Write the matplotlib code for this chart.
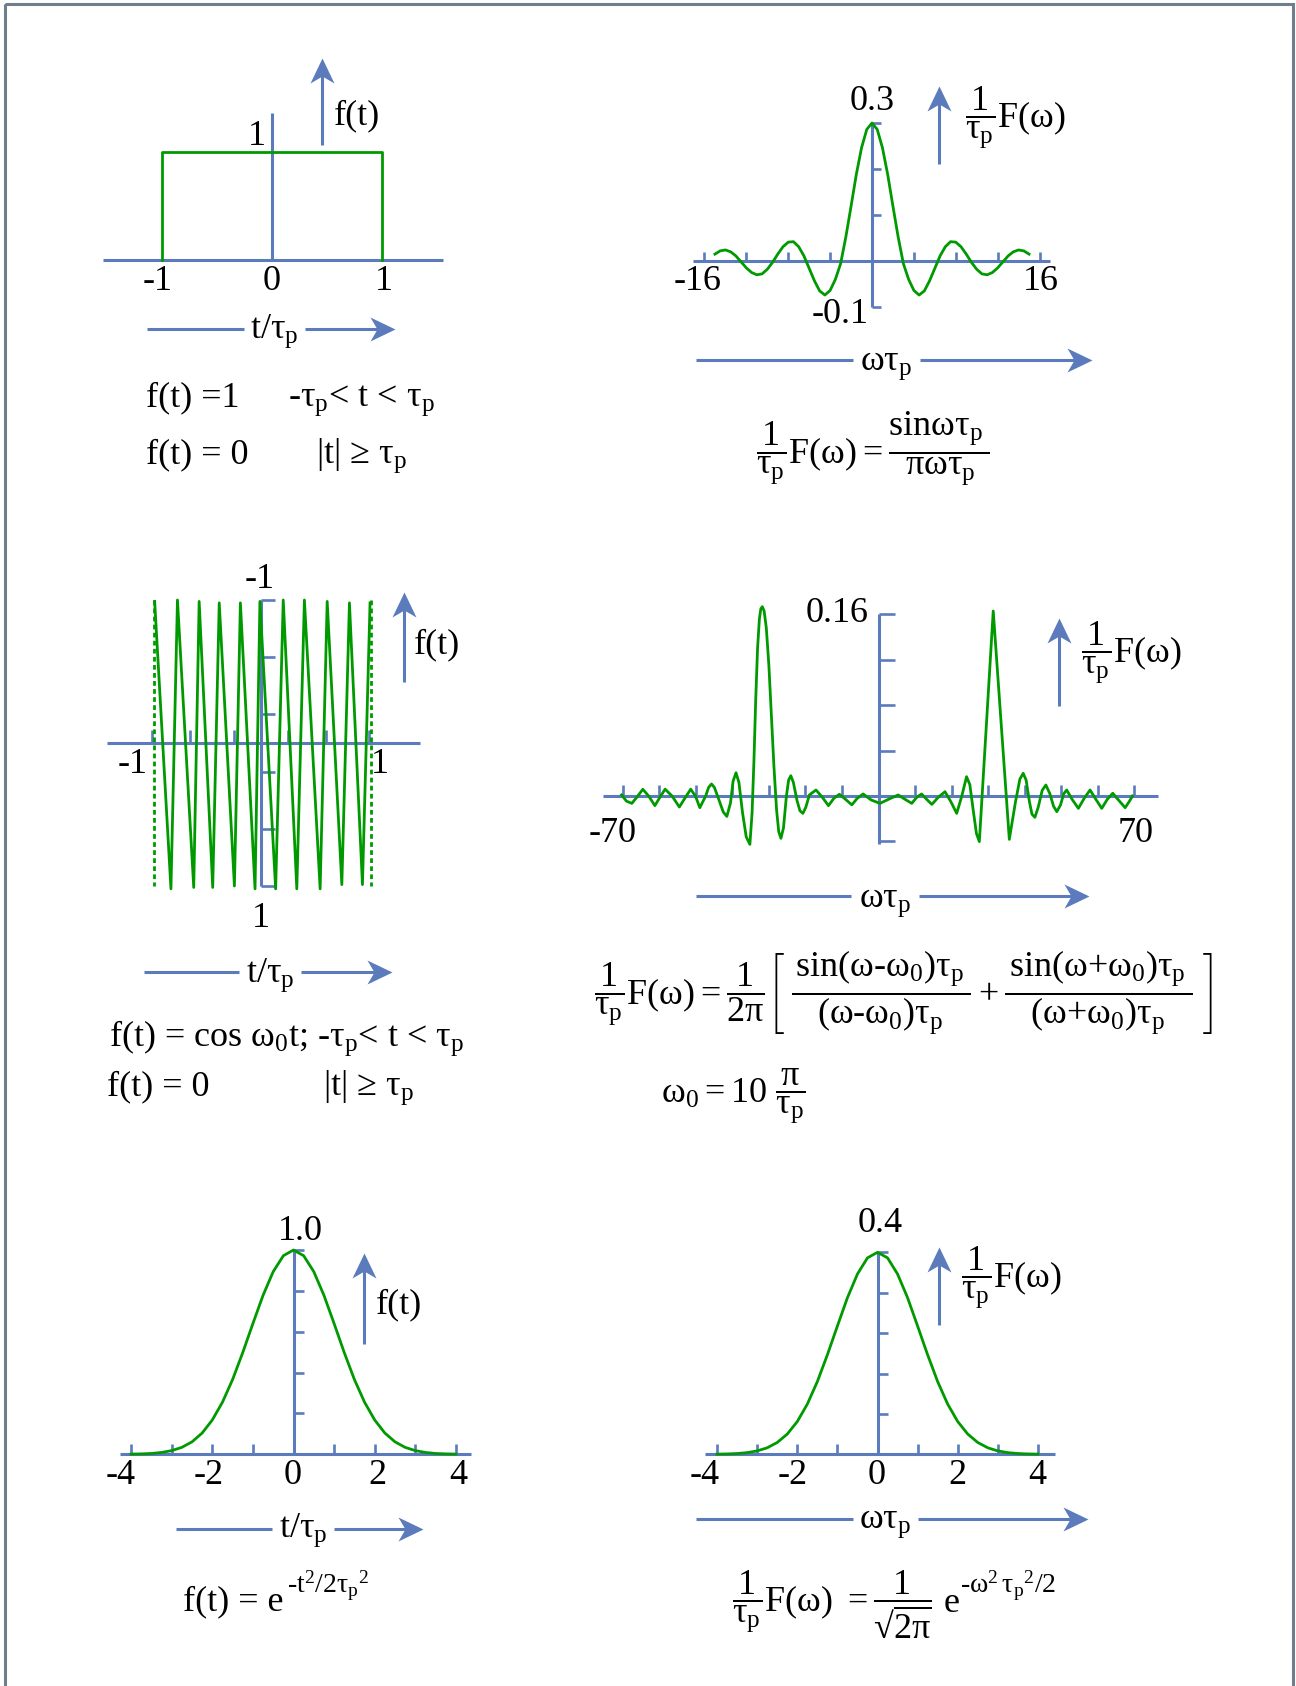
import matplotlib
matplotlib.use("Agg")
import matplotlib.pyplot as plt
from matplotlib.path import Path
from matplotlib.patches import Rectangle

# ---------------------------------------------------------------- canvas
W, H = 1296, 1686
DPI = 100

plt.rcParams["font.family"] = ["Liberation Serif", "DejaVu Serif"]
plt.rcParams["mathtext.fontset"] = "custom"
plt.rcParams["mathtext.rm"] = "Liberation Serif"
plt.rcParams["mathtext.it"] = "Liberation Serif"
plt.rcParams["mathtext.bf"] = "Liberation Serif:bold"
plt.rcParams["mathtext.default"] = "rm"

BLUE = "#5b7bbd"
GREEN = "#009a00"
FRAME = "#6f7e8a"
FS = 26
FS_SUP = 20
AX_LW = 2.2
CURVE_LW = 2.0

# ---------------------------------------------------------------- data
# rectangular pulse
rect_t = [-1, -1, 1, 1]
rect_f = [0, 1, 1, 0]

# its spectrum
sinc_w = [-15.0, -14.5, -14.0, -13.5, -13.0, -12.5, -12.0, -11.5, -11.0, -10.5,
          -10.0, -9.5, -9.0, -8.5, -8.0, -7.5, -7.0, -6.5, -6.0, -5.5,
          -5.0, -4.5, -4.0, -3.5, -3.0, -2.5, -2.0, -1.5, -1.0, -0.5,
          0.0, 0.5, 1.0, 1.5, 2.0, 2.5, 3.0, 3.5, 4.0, 4.5,
          5.0, 5.5, 6.0, 6.5, 7.0, 7.5, 8.0, 8.5, 9.0, 9.5,
          10.0, 10.5, 11.0, 11.5, 12.0, 12.5, 13.0, 13.5, 14.0, 14.5, 15.0]
sinc_F = [0.015, 0.022, 0.024, 0.020, 0.011, -0.002, -0.015, -0.025, -0.030, -0.028,
          -0.018, -0.003, 0.015, 0.031, 0.041, 0.042, 0.031, 0.011, -0.016, -0.043,
          -0.065, -0.074, -0.064, -0.040, -0.006, 0.052, 0.119, 0.188, 0.246, 0.286,
          0.300, 0.286, 0.246, 0.188, 0.119, 0.052, -0.006, -0.040, -0.064, -0.074,
          -0.065, -0.043, -0.016, 0.011, 0.031, 0.042, 0.041, 0.031, 0.015, -0.003,
          -0.018, -0.028, -0.030, -0.025, -0.015, -0.002, 0.011, 0.020, 0.024, 0.022, 0.015]

# cosine burst (vertices of the sampled trace)
cos_t = [-0.98, -0.83, -0.77, -0.62, -0.57, -0.445, -0.385, -0.245, -0.19, -0.055,
         -0.01, 0.135, 0.205, 0.33, 0.40, 0.545, 0.61, 0.745, 0.815, 0.935, 1.005]
cos_f = [-0.99, 1.02, -1.00, 1.01, -0.99, 1.01, -0.98, 1.00, -0.98, 1.02,
         -0.99, 1.02, -1.00, 1.02, -1.00, 1.02, -0.99, 0.99, -0.98, 0.99, -0.98]
cos_edges = [-0.99, 1.01]

# its spectrum
two_w = [-70.3, -69.0, -67.5, -66.0, -64.5, -62.9, -61.2, -59.8, -58.4, -56.5,
         -54.5, -53.0, -51.4, -50.1, -48.9, -47.3, -46.5, -45.7, -44.9, -43.6,
         -42.5, -41.5, -40.5, -39.8, -39.0, -38.2, -37.2, -36.2, -35.2, -34.6,
         -34.1, -33.6, -33.1, -32.6, -32.2, -31.8, -31.3, -30.7, -30.0, -29.3,
         -28.6, -27.9, -27.3, -26.7, -26.0, -25.2, -24.6, -24.0, -23.3, -22.3,
         -21.5, -20.7, -19.9, -18.9, -17.1, -15.4, -13.7, -12.2, -10.7, -9.0,
         -7.3, -5.8, -4.2, -2.0, 0.4, 3.0, 5.4, 7.3, 9.1, 10.5,
         11.8, 13.2, 14.6, 16.4, 18.2, 19.8, 21.4, 22.8, 24.1, 25.0,
         25.9, 26.8, 27.6, 31.4, 35.8, 37.5, 38.7, 39.6, 40.4, 41.3,
         42.0, 42.8, 43.7, 44.8, 45.8, 46.9, 47.9, 48.8, 49.8, 50.7,
         51.5, 53.0, 54.7, 56.3, 57.9, 59.5, 61.1, 62.6, 64.1, 65.8,
         67.5, 68.6, 69.5]
two_F = [0.0010, -0.0045, -0.0065, -0.0005, 0.0059, 0.0000, -0.0085, -0.0010, 0.0060, 0.0000,
         -0.0097, -0.0020, 0.0060, 0.0000, -0.0103, 0.0000, 0.0075, 0.0106, 0.0075, -0.0040,
         -0.0140, -0.0180, -0.0060, 0.0130, 0.0205, 0.0120, -0.0150, -0.0360, -0.0426, -0.0150,
         0.0300, 0.0850, 0.1300, 0.1560, 0.1650, 0.1668, 0.1630, 0.1480, 0.1150, 0.0700,
         0.0250, -0.0120, -0.0315, -0.0373, -0.0280, 0.0000, 0.0140, 0.0179, 0.0120, -0.0040,
         -0.0130, -0.0153, -0.0100, 0.0010, 0.0053, -0.0010, -0.0085, -0.0020, 0.0015, -0.0030,
         -0.0078, -0.0020, 0.0018, -0.0035, -0.0065, -0.0025, 0.0009, -0.0030, -0.0065, -0.0010,
         0.0018, -0.0030, -0.0074, -0.0010, 0.0038, -0.0050, -0.0153, 0.0000, 0.0170, 0.0100,
         -0.0120, -0.0330, -0.0402, 0.1630, -0.0382, -0.0050, 0.0150, 0.0200, 0.0140, -0.0050,
         -0.0160, -0.0188, -0.0100, 0.0050, 0.0097, 0.0020, -0.0090, -0.0138, -0.0080, 0.0020,
         0.0053, -0.0030, -0.0109, -0.0020, 0.0053, -0.0030, -0.0109, -0.0030, 0.0024, -0.0040,
         -0.0103, -0.0050, 0.0000]

# gaussian pulse and its spectrum
gauss_t = [-4.0, -3.75, -3.5, -3.25, -3.0, -2.75, -2.5, -2.25, -2.0, -1.75, -1.5,
           -1.25, -1.0, -0.75, -0.5, -0.25, 0.0, 0.25, 0.5, 0.75, 1.0, 1.25,
           1.5, 1.75, 2.0, 2.25, 2.5, 2.75, 3.0, 3.25, 3.5, 3.75, 4.0]
gauss_f = [0.001, 0.002, 0.004, 0.009, 0.018, 0.034, 0.061, 0.104, 0.168, 0.255, 0.366,
           0.498, 0.640, 0.778, 0.894, 0.972, 1.000, 0.972, 0.894, 0.778, 0.640, 0.498,
           0.366, 0.255, 0.168, 0.104, 0.061, 0.034, 0.018, 0.009, 0.004, 0.002, 0.001]
gauss_w = gauss_t
gauss_F = [0.0003, 0.0007, 0.0015, 0.0033, 0.0067, 0.0129, 0.0234, 0.0401, 0.0649, 0.0994, 0.144,
           0.197, 0.254, 0.310, 0.357, 0.389, 0.400, 0.389, 0.357, 0.310, 0.254, 0.197,
           0.144, 0.0994, 0.0649, 0.0401, 0.0234, 0.0129, 0.0067, 0.0033, 0.0015, 0.0007, 0.0003]

# tick positions
sinc_xticks = [-16, -12, -8, -4, 0, 4, 8, 12, 16]
sinc_yticks = [-0.1, 0.1, 0.2, 0.3]
cos_xticks = [-1, -0.65, -0.25, 0.25, 0.6, 1]
cos_yticks = [-1, -0.6, -0.2, 0.2, 0.6, 1]
two_xticks = [-70, -60, -50, -40, -30, -20, -10, 0, 10, 20, 30, 40, 50, 60, 70]
two_yticks = [-0.04, 0.04, 0.08, 0.12, 0.16]
g_xticks = [-4, -3, -2, -1, 0, 1, 2, 3, 4]
gf_yticks = [0.2, 0.4, 0.6, 0.8, 1.0]
gF_yticks = [0.08, 0.16, 0.24, 0.32, 0.40]

# ---------------------------------------------------------------- figure
fig = plt.figure(figsize=(W / DPI, H / DPI), dpi=DPI, facecolor="white")
ov = fig.add_axes([0, 0, 1, 1], zorder=5)
ov.set_xlim(0, W)
ov.set_ylim(H, 0)
ov.axis("off")

ov.add_patch(Rectangle((5, 4), 1288, H + 40, fill=False, edgecolor=FRAME,
                       lw=2.2, clip_on=False))

HEAD_R = Path([(0, 0), (-1, 0.48), (-0.72, 0), (-1, -0.48), (0, 0)],
              [Path.MOVETO, Path.LINETO, Path.LINETO, Path.LINETO, Path.CLOSEPOLY])
HEAD_U = Path([(0, 0), (0.48, -1), (0, -0.72), (-0.48, -1), (0, 0)],
              [Path.MOVETO, Path.LINETO, Path.LINETO, Path.LINETO, Path.CLOSEPOLY])


def label(x, y, s, ha="center", size=FS):
    ov.text(x, y, s, ha=ha, va="baseline", fontsize=size, color="black")


def up_arrow(x, y0, y1):
    ov.plot([x, x], [y0, y1 + 14], color=BLUE, lw=AX_LW, solid_capstyle="butt")
    ov.plot([x], [y1], marker=HEAD_U, ms=36, color=BLUE, mew=0, ls="none")


def right_arrow(y, x0, g0, g1, x1, text, base):
    ov.plot([x0, g0], [y, y], color=BLUE, lw=AX_LW, solid_capstyle="butt")
    ov.plot([g1, x1 - 14], [y, y], color=BLUE, lw=AX_LW, solid_capstyle="butt")
    ov.plot([x1], [y], marker=HEAD_R, ms=36, color=BLUE, mew=0, ls="none")
    label((g0 + g1) / 2, base, text)


def panel(ox, oy, sx, sy, box):
    l, t, r, b = box
    ax = fig.add_axes([l / W, 1 - b / H, (r - l) / W, (b - t) / H], zorder=2)
    ax.set_xlim((l - ox) / sx, (r - ox) / sx)
    ax.set_ylim((oy - b) / sy, (oy - t) / sy)
    ax.axis("off")
    return ax


def axes_lines(ax, sx, sy, xspan, yspan, xticks=(), yticks=(), xt=9, yt=9):
    ax.plot(xspan, [0, 0], color=BLUE, lw=AX_LW, solid_capstyle="butt", zorder=1)
    ax.plot([0, 0], yspan, color=BLUE, lw=AX_LW, solid_capstyle="butt", zorder=1)
    if len(xticks):
        ax.vlines(xticks, 0, xt / sy, color=BLUE, lw=1.9, zorder=1)
    if len(yticks):
        ax.hlines(yticks, 0, yt / sx, color=BLUE, lw=1.9, zorder=1)


# ---- rectangular pulse
sx, sy = 110, 108
a1 = panel(272, 260, sx, sy, (90, 40, 460, 320))
axes_lines(a1, sx, sy, [-1.536, 1.555], [0, 1.36])
a1.plot(rect_t, rect_f, color=GREEN, lw=CURVE_LW, zorder=3)

label(266, 145, "1", ha="right")
label(334, 124, "f(t)", ha="left")
label(158, 290, "-1")
label(272, 290, "0")
label(384, 290, "1")
up_arrow(322, 145, 58)
right_arrow(329, 147, 244, 305, 395, "t/τ$_p$", 338)
label(146, 406, "f(t) =1", "left")
label(288, 406, "-τ$_p$< t < τ$_p$", "left")
label(146, 463, "f(t) = 0", "left")
label(316, 463, "|t| ≥ τ$_p$", "left")

# ---- sinc spectrum
sx, sy = 10.47, 460
a2 = panel(872, 261, sx, sy, (680, 100, 1070, 330))
axes_lines(a2, sx, sy, [-17.1, 17.0], [-0.1, 0.3], sinc_xticks, sinc_yticks)
a2.plot(sinc_w, sinc_F, color=GREEN, lw=CURVE_LW, zorder=3)

label(872, 110, "0.3")
label(698, 290, "-16")
label(1041, 290, "16")
label(869, 323, "-0.1", ha="right")
up_arrow(939, 164, 86)
label(965, 127, r"$\dfrac{1}{τ_p}F(ω)$", "left")
right_arrow(360, 696, 853, 920, 1092, "ωτ$_p$", 370)
label(756, 463, r"$\dfrac{1}{τ_p}F(ω)=\dfrac{sinωτ_p\,}{\,πωτ_p}$", "left")

# ---- cosine burst (values grow downward)
sx, sy = 108.5, -143
a3 = panel(261, 743, sx, sy, (95, 580, 430, 900))
axes_lines(a3, sx, sy, [-1.42, 1.465], [-1, 1], cos_xticks, cos_yticks, xt=13, yt=14)
a3.vlines(cos_edges, -1, 1, color=GREEN, lw=CURVE_LW, linestyles=(0, (1.7, 1.2)), zorder=3)
a3.plot(cos_t, cos_f, color=GREEN, lw=CURVE_LW, zorder=3)

label(260, 588, "-1")
label(133, 773, "-1")
label(380, 773, "1")
label(261, 927, "1")
up_arrow(403.5, 682, 591.5)
label(414, 653, "f(t)", "left")
right_arrow(971.5, 144, 239, 301, 392, "t/τ$_p$", 982)
label(109, 1046, "f(t) = cos ω$_0$t; -τ$_p$< t < τ$_p$", "left")
label(107, 1095, "f(t) = 0", "left")
label(323, 1095, "|t| ≥ τ$_p$", "left")

# ---- two-sided sinc spectrum
sx, sy = 3.654, 1135
a4 = panel(878.5, 796, sx, sy, (590, 590, 1170, 860))
axes_lines(a4, sx, sy, [-75.4, 76.5], [-0.042, 0.16], two_xticks, two_yticks, xt=11, yt=16)
a4.plot(two_w, two_F, color=GREEN, lw=CURVE_LW, zorder=3)

label(837, 622.5, "0.16")
label(613, 842, "-70")
label(1136, 842, "70")
up_arrow(1058.5, 705.5, 617.5)
label(1081, 662, r"$\dfrac{1}{τ_p}F(ω)$", "left")
right_arrow(895.5, 696, 851, 919, 1089, "ωτ$_p$", 907)
label(594, 1004,
      r"$\dfrac{1}{τ_p}F(ω)=\dfrac{1}{2π}\left[\;\dfrac{\,sin(ω\text{-}ω_0)τ_p\,}{(ω\text{-}ω_0)τ_p}"
      r"+\dfrac{\,sin(ω\text{+}ω_0)τ_p\,}{(ω\text{+}ω_0)τ_p}\;\right]$", "left")
label(661, 1102, r"$ω_0 = 10\ \dfrac{π}{τ_p}$", "left")

# ---- gaussian pulse
sx, sy = 40.6, 204.3
a5 = panel(293.5, 1454.3, sx, sy, (110, 1230, 480, 1470))
axes_lines(a5, sx, sy, [-4.27, 4.37], [0, 1.0], g_xticks, gf_yticks, xt=10, yt=10)
a5.plot(gauss_t, gauss_f, color=GREEN, lw=CURVE_LW, zorder=3)

label(300, 1240.5, "1.0")
for x, s in [(121, "-4"), (209, "-2"), (293, "0"), (377, "2"), (458, "4")]:
    label(x, 1484, s)
up_arrow(364, 1344, 1253)
label(375.5, 1313, "f(t)", "left")
right_arrow(1528.5, 176, 272, 334, 423, "t/τ$_p$", 1537)
label(182.6, 1610, "f(t) = e", "left")
label(287, 1593, r"$\text{-}t^2/2τ_p{}^2$", "left", size=FS_SUP)

# ---- gaussian spectrum
sx, sy = 40.1, 505
a6 = panel(877.5, 1454.3, sx, sy, (690, 1230, 1070, 1470))
axes_lines(a6, sx, sy, [-4.30, 4.43], [0, 0.4], g_xticks, gF_yticks, xt=10, yt=10)
a6.plot(gauss_w, gauss_F, color=GREEN, lw=CURVE_LW, zorder=3)

label(880, 1232, "0.4")
for x, s in [(705, "-4"), (793, "-2"), (877, "0"), (957, "2"), (1037.5, "4")]:
    label(x, 1484, s)
up_arrow(939, 1325.4, 1246.6)
label(961, 1287, r"$\dfrac{1}{τ_p}F(ω)$", "left")
right_arrow(1519, 696, 852.5, 917.5, 1088, "ωτ$_p$", 1528)
label(732, 1612, r"$\dfrac{1}{τ_p}F(ω)\ =\dfrac{1}{√\overline{2π}}$", "left")
label(944, 1612, "e", "left")
label(960, 1593, r"$\text{-}ω^2\,τ_p{}^2/2$", "left", size=FS_SUP)

fig.savefig("out.png", dpi=DPI, facecolor="white")
